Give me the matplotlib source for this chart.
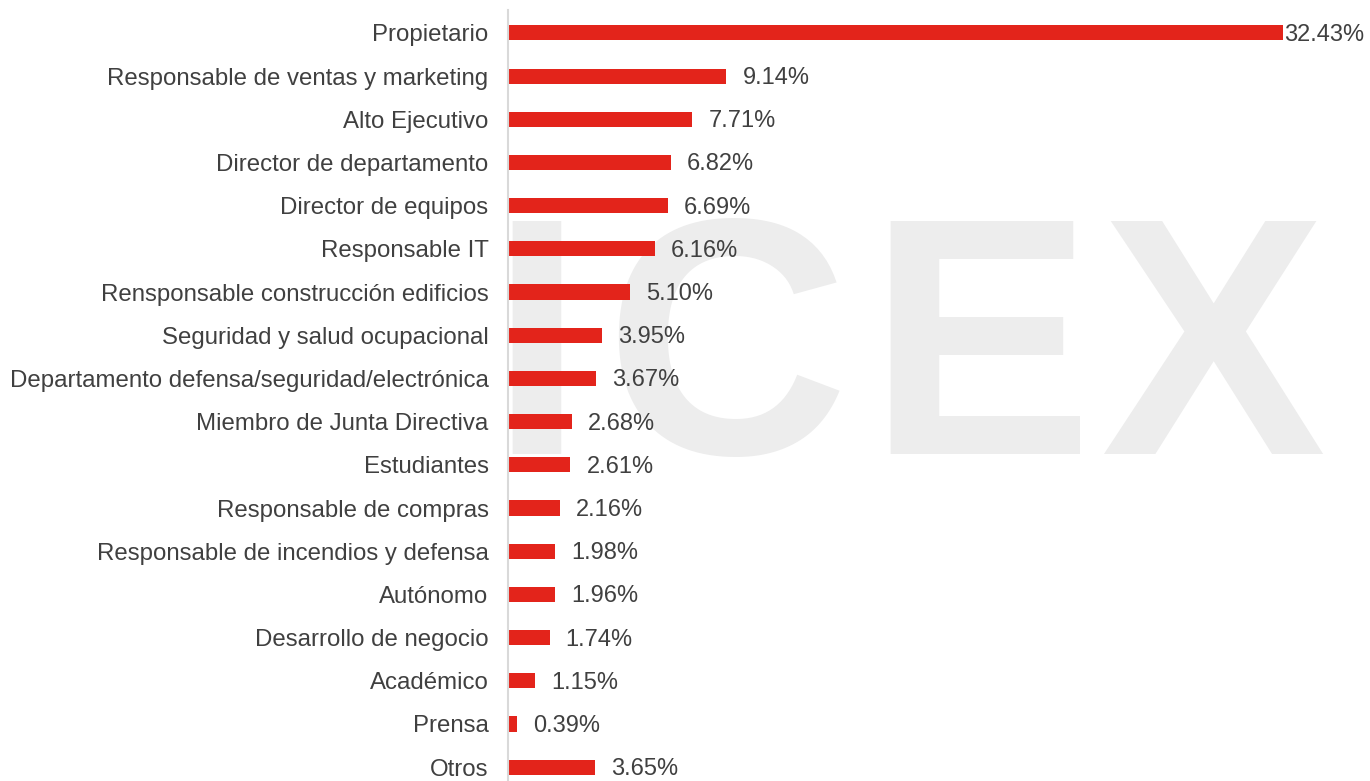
import matplotlib.pyplot as plt

categories = [
    'Propietario', 'Responsable de ventas y marketing', 'Alto Ejecutivo',
    'Director de departamento', 'Director de equipos', 'Responsable IT',
    'Rensponsable construcción edificios', 'Seguridad y salud ocupacional',
    'Departamento defensa/seguridad/electrónica', 'Miembro de Junta Directiva',
    'Estudiantes', 'Responsable de compras', 'Responsable de incendios y defensa',
    'Autónomo', 'Desarrollo de negocio', 'Académico', 'Prensa', 'Otros',
]
values = [32.43, 9.14, 7.71, 6.82, 6.69, 6.16, 5.10, 3.95, 3.67, 2.68,
          2.61, 2.16, 1.98, 1.96, 1.74, 1.15, 0.39, 3.65]

plt.rcParams['font.family'] = ['Liberation Sans', 'DejaVu Sans']

fig = plt.figure(figsize=(13.7, 7.81), dpi=100)

ax = fig.add_axes([508 / 1370, 0, (1340 - 508) / 1370, 1 - 10 / 781])
ax.patch.set_alpha(0)

# watermark letters, behind the bars
for letter, px in zip('ICEX', [489, 604, 867, 1100]):
    ax.text(px / 1370, 1 - 454 / 781, letter, transform=fig.transFigure,
            fontsize=243, fontweight='bold', color='#ededed',
            ha='left', va='baseline', zorder=0)

y = list(range(len(categories)))
ax.barh(y, values, height=0.35, color='#e3241b', zorder=2)

ax.set_xlim(0, (1340 - 508) / 23.9)
ax.set_ylim(len(categories) - 1 + 0.32, -0.53)

ax.set_yticks(y)
ax.set_yticklabels(categories, fontsize=17.3, color='#404040')
ax.tick_params(axis='y', length=0, pad=14)
ax.set_xticks([])

for s in ['top', 'right', 'bottom']:
    ax.spines[s].set_visible(False)
ax.spines['left'].set_color('#d9d9d9')
ax.spines['left'].set_linewidth(1.5)

vmax = max(values)
for yi, v in zip(y, values):
    off = 1 if v == vmax else 16
    ax.annotate(f'{v:.2f}%', (v, yi), xytext=(off, -2), textcoords='offset pixels',
                va='center', ha='left', fontsize=17, color='#404040',
                annotation_clip=False, zorder=3)

fig.savefig('out.png', dpi=100)
